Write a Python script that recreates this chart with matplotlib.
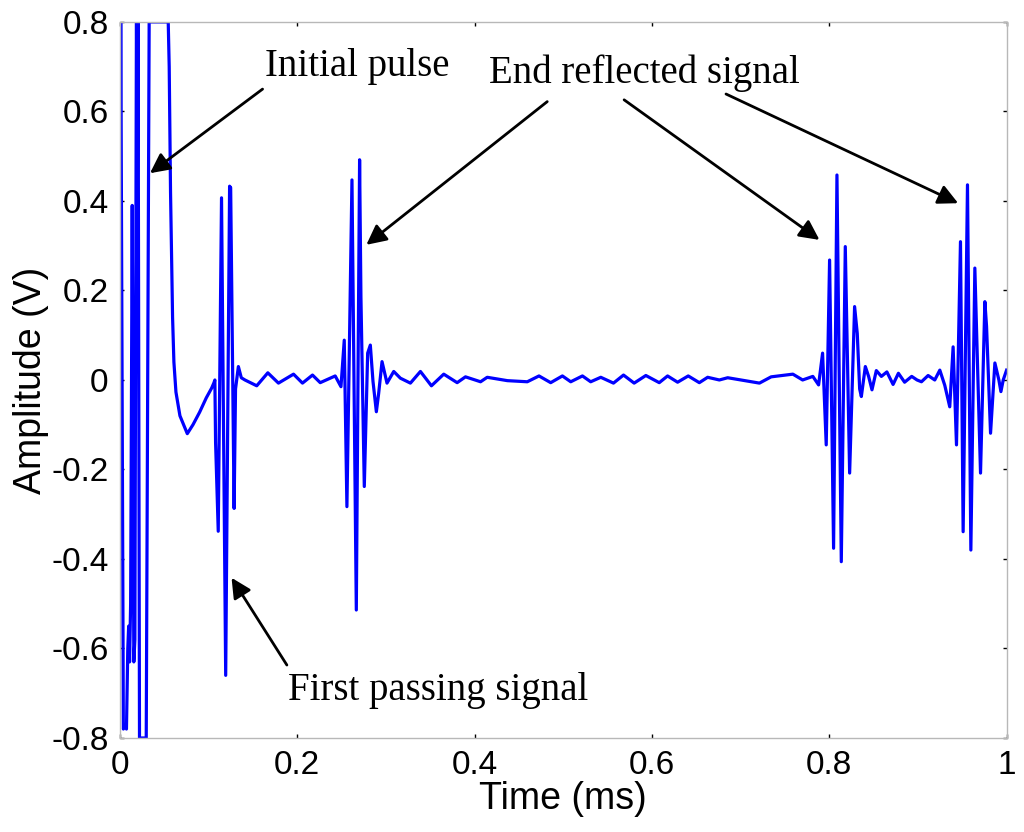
import matplotlib
matplotlib.use("Agg")
import matplotlib.pyplot as plt

# signal vertices (time in ms, amplitude in V)
time_ms = [
    0.0, 0.0010, 0.0040, 0.0060, 0.0075, 0.0090, 0.0100, 0.0110, 0.0122,
    0.0140, 0.0158, 0.0170, 0.0188, 0.0196, 0.0205, 0.0222, 0.0298, 0.0331,
    0.0546, 0.0557, 0.0572, 0.0595, 0.0610, 0.0633, 0.0678, 0.0761, 0.0825,
    0.0900, 0.0975, 0.1036, 0.1062, 0.1072, 0.1080, 0.1110, 0.1147, 0.1194,
    0.1238, 0.1250, 0.1289, 0.1305, 0.1337, 0.1370, 0.1411, 0.1544, 0.1669,
    0.1789, 0.1959, 0.2060, 0.2173, 0.2260, 0.2429, 0.2494, 0.2531, 0.2561,
    0.2618, 0.2667, 0.2704, 0.2719, 0.2757, 0.2795, 0.2825, 0.2855, 0.2893,
    0.2919, 0.2957, 0.3013, 0.3089, 0.3164, 0.3277, 0.3390, 0.3514, 0.3653,
    0.3804, 0.3898, 0.4068, 0.4143, 0.4370, 0.4595, 0.4727, 0.4859, 0.4991,
    0.5085, 0.5217, 0.5310, 0.5424, 0.5567, 0.5680, 0.5800, 0.5932, 0.6083,
    0.6177, 0.6290, 0.6410, 0.6535, 0.6629, 0.6761, 0.6855, 0.7006, 0.7213,
    0.7345, 0.7590, 0.7700, 0.7815, 0.7880, 0.7925, 0.7966, 0.8004, 0.8049,
    0.8087, 0.8136, 0.8181, 0.8230, 0.8286, 0.8316, 0.8343, 0.8362, 0.8407,
    0.8444, 0.8482, 0.8531, 0.8588, 0.8650, 0.8720, 0.8780, 0.8850, 0.8930,
    0.8990, 0.9040, 0.9115, 0.9190, 0.9247, 0.9303, 0.9359, 0.9397, 0.9435,
    0.9480, 0.9510, 0.9559, 0.9597, 0.9642, 0.9706, 0.9755, 0.9774, 0.9819,
    0.9868, 0.9913, 0.9936, 0.9962, 1.0,
]
amplitude_v = [
    0.0, 0.85, -0.78, -0.77, -0.78, -0.60, -0.55, -0.63, -0.50,
    0.39, -0.63, -0.58, 0.85, 0.30, 0.85, -0.80, -0.80, 0.80,
    0.80, 0.70, 0.42, 0.14, 0.04, -0.027, -0.08, -0.12, -0.10,
    -0.072, -0.04, -0.018, -0.006, 0.0, -0.14, -0.338, 0.407, -0.66,
    0.433, 0.43, -0.287, -0.02, 0.03, 0.005, 0.0, -0.013, 0.016,
    -0.007, 0.013, -0.007, 0.011, -0.006, 0.009, -0.015, 0.089, -0.283,
    0.447, -0.514, 0.492, 0.186, -0.238, 0.06, 0.078, -0.003, -0.071,
    -0.03, 0.041, -0.007, 0.019, 0.004, -0.007, 0.019, -0.013, 0.013,
    -0.006, 0.007, -0.004, 0.006, -0.0015, -0.004, 0.009, -0.006, 0.009,
    -0.004, 0.009, -0.004, 0.006, -0.007, 0.011, -0.007, 0.010, -0.006,
    0.009, -0.005, 0.009, -0.006, 0.006, 0.0, 0.005, 0.0, -0.007,
    0.007, 0.013, 0.0, 0.008, -0.011, 0.06, -0.145, 0.268, -0.376,
    0.458, -0.406, 0.298, -0.208, 0.164, 0.104, -0.02, -0.037, 0.03,
    0.008, -0.022, 0.021, 0.008, 0.018, -0.010, 0.015, -0.005, 0.008,
    0.0, -0.004, 0.01, 0.0, 0.022, -0.012, -0.06, 0.074, -0.145,
    0.309, -0.339, 0.436, -0.38, 0.25, -0.208, 0.175, 0.12, -0.119,
    0.038, 0.0, -0.026, 0.0, 0.022,
]

x_ticks = [0, 0.2, 0.4, 0.6, 0.8, 1]
x_tick_labels = ["0", "0.2", "0.4", "0.6", "0.8", "1"]
y_ticks = [-0.8, -0.6, -0.4, -0.2, 0, 0.2, 0.4, 0.6, 0.8]
y_tick_labels = ["-0.8", "-0.6", "-0.4", "-0.2", "0", "0.2", "0.4", "0.6", "0.8"]

# annotations: text (left edge, middle), arrow tails and heads
labels = ["Initial pulse", "End reflected signal", "First passing signal"]
label_pos = [(0.164, 0.70), (0.416, 0.686), (0.190, -0.693)]
initial_tail = (0.161, 0.65)
initial_head = (0.034, 0.462)
end_tails = [(0.482, 0.622), (0.5687, 0.626), (0.6836, 0.639)]
end_heads = [(0.278, 0.302), (0.789, 0.313), (0.9454, 0.395)]
first_tail = (0.1884, -0.637)
first_head = (0.126, -0.442)

fig = plt.figure(figsize=(10.24, 8.32), dpi=100)
ax = fig.add_axes([0.117, 0.113, 0.866, 0.8606])

ax.plot(time_ms, amplitude_v, color="#0000ff", lw=2.3)

ax.set_xlim(0, 1)
ax.set_ylim(-0.8, 0.8)
ax.set_xticks(x_ticks)
ax.set_xticklabels(x_tick_labels)
ax.set_yticks(y_ticks)
ax.set_yticklabels(y_tick_labels)
ax.tick_params(direction="in", length=3, width=1, top=True, right=True,
               labelsize=24)
ax.tick_params(axis="x", pad=9)
ax.tick_params(axis="y", pad=8)
for lab in ax.get_xticklabels() + ax.get_yticklabels():
    lab.set_fontfamily("Liberation Sans")
for sp in ax.spines.values():
    sp.set_color("#b8b8b8")
    sp.set_linewidth(1)

ax.set_xlabel("Time (ms)", fontsize=27, family="Liberation Sans", labelpad=0)
ax.set_ylabel("Amplitude (V)", fontsize=27, family="Liberation Sans", labelpad=2)

arrow = dict(arrowstyle="-|>", color="black", lw=2, mutation_scale=30,
             shrinkA=0, shrinkB=0)
serif = dict(fontsize=28, family="Liberation Serif", va="center", ha="left")

ax.text(label_pos[0][0], label_pos[0][1], labels[0], **serif)
ax.annotate("", xy=initial_head, xytext=initial_tail, arrowprops=arrow)

ax.text(label_pos[1][0], label_pos[1][1], labels[1], **serif)
for tail, head in zip(end_tails, end_heads):
    ax.annotate("", xy=head, xytext=tail, arrowprops=arrow)

ax.text(label_pos[2][0], label_pos[2][1], labels[2], **serif)
ax.annotate("", xy=first_head, xytext=first_tail, arrowprops=arrow)

fig.savefig("out.png", dpi=100)
